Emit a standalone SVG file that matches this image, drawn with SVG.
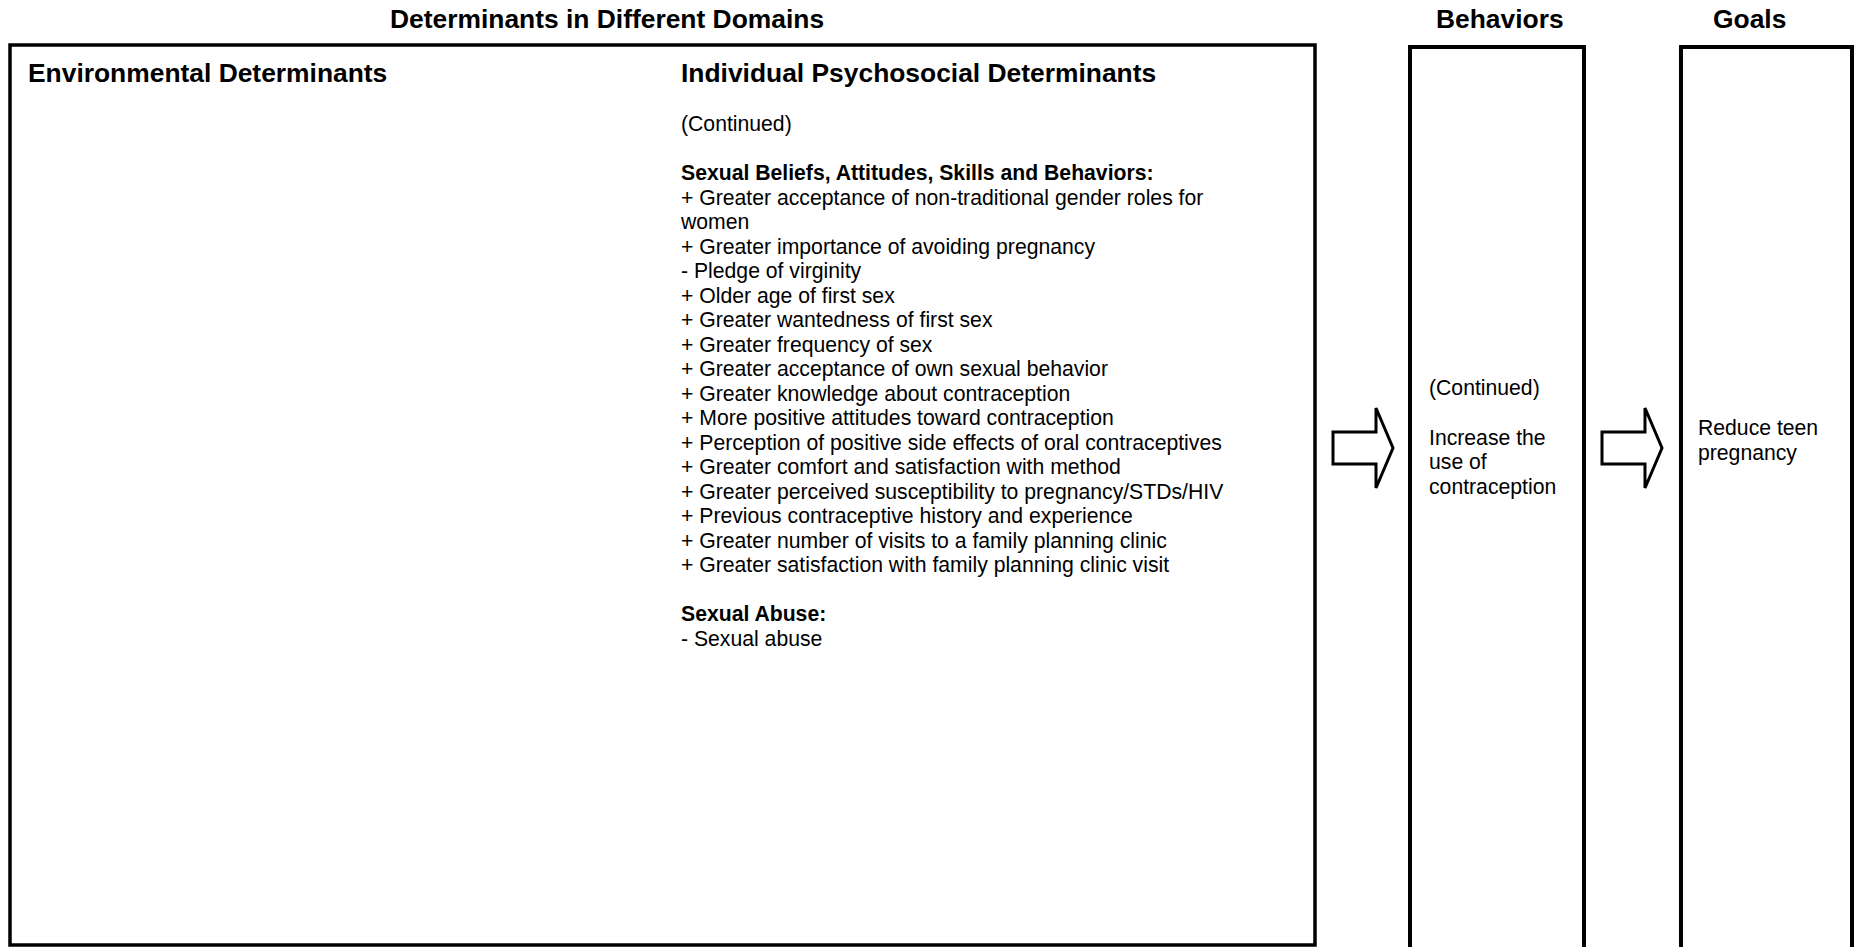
<svg xmlns="http://www.w3.org/2000/svg" width="1856" height="947" viewBox="0 0 1856 947">
  <style>
    .hdr { font-family: "Liberation Sans", Arial, sans-serif; font-weight: bold; font-size: 26.4px; fill: #000; }
    .body { font-family: "Liberation Sans", Arial, sans-serif; font-size: 21.2px; fill: #000; }
    .bold { font-weight: bold; }
    .frame { fill: #fff; stroke: #000; }
    .arrow { fill: #fff; stroke: #000; stroke-width: 3; stroke-linejoin: miter; }
  </style>
  <defs>
    <!-- hollow block arrow, tip at origin -->
    <path id="blockArrow" d="M -60 -16 L -17 -16 L -17 -40 L 0 0 L -17 40 L -17 16 L -60 16 Z"/>
  </defs>
  <rect width="1856" height="947" fill="#fff"/>

  <!-- column headings -->
  <g id="headings">
    <text class="hdr" x="390" y="28">Determinants in Different Domains</text>
    <text class="hdr" x="1436" y="28">Behaviors</text>
    <text class="hdr" x="1713" y="28">Goals</text>
  </g>

  <!-- determinants panel -->
  <g id="determinants">
    <rect class="frame" x="10" y="45" width="1305" height="900" stroke-width="3.5"/>
    <text class="hdr" x="28" y="82">Environmental Determinants</text>
    <text class="hdr" x="681" y="82">Individual Psychosocial Determinants</text>
    <text class="body" x="681">
      <tspan x="681" y="131">(Continued)</tspan>
      <tspan x="681" y="180" class="bold">Sexual Beliefs, Attitudes, Skills and Behaviors:</tspan>
      <tspan x="681" y="204.5">+ Greater acceptance of non-traditional gender roles for</tspan>
      <tspan x="681" y="229">women</tspan>
      <tspan x="681" y="253.5">+ Greater importance of avoiding pregnancy</tspan>
      <tspan x="681" y="278">- Pledge of virginity</tspan>
      <tspan x="681" y="302.5">+ Older age of first sex</tspan>
      <tspan x="681" y="327">+ Greater wantedness of first sex</tspan>
      <tspan x="681" y="351.5">+ Greater frequency of sex</tspan>
      <tspan x="681" y="376">+ Greater acceptance of own sexual behavior</tspan>
      <tspan x="681" y="400.5">+ Greater knowledge about contraception</tspan>
      <tspan x="681" y="425">+ More positive attitudes toward contraception</tspan>
      <tspan x="681" y="449.5">+ Perception of positive side effects of oral contraceptives</tspan>
      <tspan x="681" y="474">+ Greater comfort and satisfaction with method</tspan>
      <tspan x="681" y="498.5">+ Greater perceived susceptibility to pregnancy/STDs/HIV</tspan>
      <tspan x="681" y="523">+ Previous contraceptive history and experience</tspan>
      <tspan x="681" y="547.5">+ Greater number of visits to a family planning clinic</tspan>
      <tspan x="681" y="572">+ Greater satisfaction with family planning clinic visit</tspan>
      <tspan x="681" y="621" class="bold">Sexual Abuse:</tspan>
      <tspan x="681" y="645.5">- Sexual abuse</tspan>
    </text>
  </g>

  <!-- behaviors panel -->
  <g id="behaviors">
    <rect class="frame" x="1410" y="47" width="174" height="960" stroke-width="4"/>
    <text class="body">
      <tspan x="1429" y="395">(Continued)</tspan>
      <tspan x="1429" y="444.5">Increase the</tspan>
      <tspan x="1429" y="469">use of</tspan>
      <tspan x="1429" y="493.5">contraception</tspan>
    </text>
  </g>

  <!-- goals panel -->
  <g id="goals">
    <rect class="frame" x="1681" y="47" width="171" height="960" stroke-width="4"/>
    <text class="body">
      <tspan x="1698" y="435">Reduce teen</tspan>
      <tspan x="1698" y="459.5">pregnancy</tspan>
    </text>
  </g>

  <!-- connectors -->
  <g id="connectors">
    <use href="#blockArrow" class="arrow" transform="translate(1393,448)"/>
    <use href="#blockArrow" class="arrow" transform="translate(1662,448)"/>
  </g>
</svg>
